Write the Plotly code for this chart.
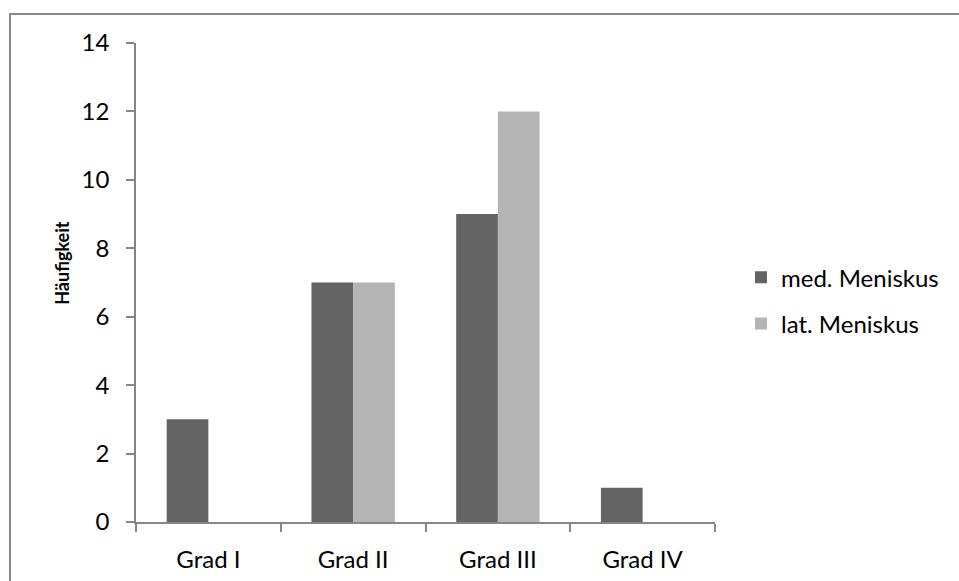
import plotly.graph_objects as go

categories = ["Grad I", "Grad II", "Grad III", "Grad IV"]
med_meniskus = [3, 7, 9, 1]
lat_meniskus = [0, 7, 12, 0]
series_names = ["med. Meniskus", "lat. Meniskus"]
y_title = "Häufigkeit"

FONT = "Lato"
AX = "#868686"

fig = go.Figure()
fig.add_trace(go.Bar(x=categories, y=med_meniskus, name=series_names[0],
                     marker=dict(color="#646464", line=dict(width=0)), legendgroup="a"))
fig.add_trace(go.Bar(x=categories, y=lat_meniskus, name=series_names[1],
                     marker=dict(color="#b4b4b4", line=dict(width=0)), legendgroup="b"))

W, H = 959, 581
L, R, T, B = 136, 715, 43, 522.5

def px2paper_x(px):
    return (px - L) / (R - L)

def px2paper_y(py):
    return (B - py) / (B - T)

fig.update_layout(
    width=W, height=H,
    margin=dict(l=L, r=W - R, t=T, b=H - B, pad=0, autoexpand=False),
    paper_bgcolor="white", plot_bgcolor="white",
    barmode="group", bargap=0.424, bargroupgap=0,
    font=dict(family=FONT, size=24, color="black"),
    showlegend=True,
    legend=dict(x=px2paper_x(741), xanchor="left", y=px2paper_y(301), yanchor="middle",
                font=dict(size=24), traceorder="grouped", tracegroupgap=12,
                bgcolor="rgba(0,0,0,0)"),
    xaxis=dict(type="category", showline=True, linecolor=AX, linewidth=1.5,
               ticks="outside", tickson="boundaries", ticklen=8, tickcolor=AX, tickwidth=1.5,
               showgrid=False, zeroline=False, tickfont=dict(size=24),
               ticklabelstandoff=15, automargin=False),
    yaxis=dict(range=[0, 14], dtick=2, showline=True, linecolor=AX, linewidth=1.5,
               ticks="outside", ticklen=8, tickcolor=AX, tickwidth=1.5,
               showgrid=False, zeroline=False, tickfont=dict(size=24),
               ticklabelstandoff=12, automargin=False),
    annotations=[dict(text="<b>" + y_title + "</b>", xref="paper", yref="paper",
                      x=px2paper_x(62.5), y=px2paper_y(263.5), xanchor="center", yanchor="middle",
                      textangle=-90, showarrow=False, font=dict(size=18))],
    shapes=[dict(type="rect", xref="paper", yref="paper",
                 x0=px2paper_x(10), x1=px2paper_x(1200), y0=px2paper_y(800), y1=px2paper_y(14),
                 line=dict(color="#888888", width=2), fillcolor="rgba(0,0,0,0)", layer="below")],
)

fig.write_html("out.html", config={"displayModeBar": False},
               post_script="document.body.style.margin='0';document.body.style.overflow='hidden';")
